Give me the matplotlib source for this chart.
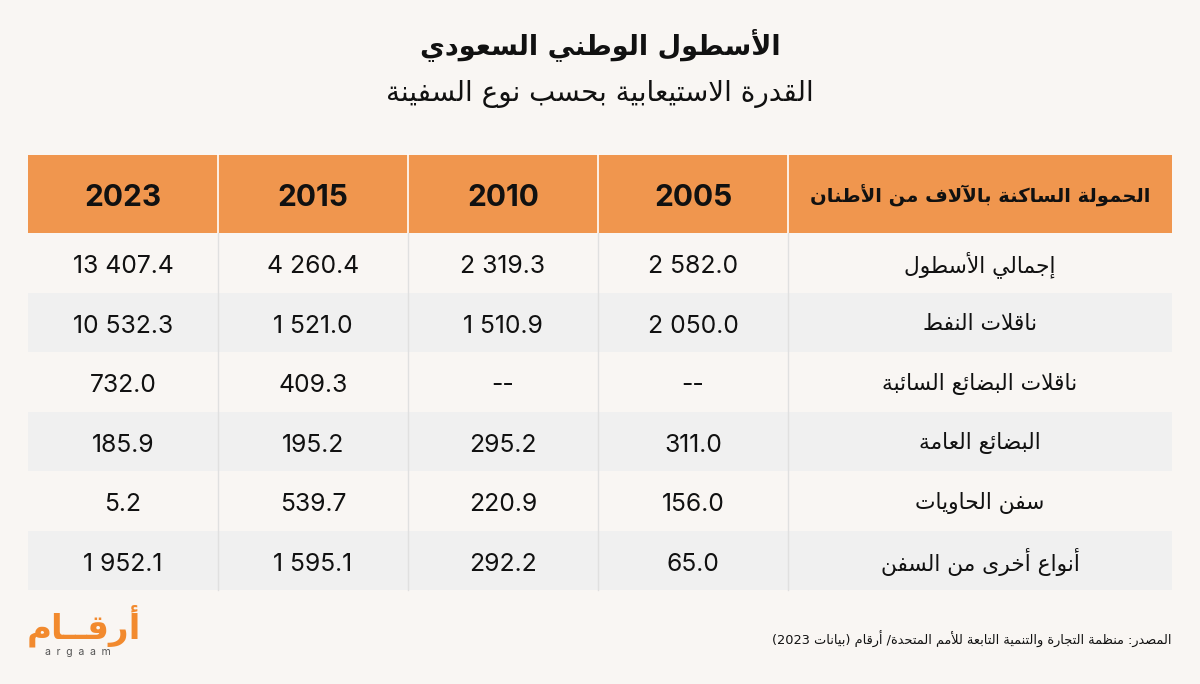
import re
import matplotlib.pyplot as plt
from matplotlib.patches import Rectangle

# --- minimal Arabic shaping + right-to-left ordering (no external libs) ---
FOUR = {0x0626: 0xFE89, 0x0628: 0xFE8F, 0x062A: 0xFE95, 0x062B: 0xFE99, 0x062C: 0xFE9D,
        0x062D: 0xFEA1, 0x062E: 0xFEA5, 0x0633: 0xFEB1, 0x0634: 0xFEB5, 0x0635: 0xFEB9,
        0x0636: 0xFEBD, 0x0637: 0xFEC1, 0x0638: 0xFEC5, 0x0639: 0xFEC9, 0x063A: 0xFECD,
        0x0641: 0xFED1, 0x0642: 0xFED5, 0x0643: 0xFED9, 0x0644: 0xFEDD, 0x0645: 0xFEE1,
        0x0646: 0xFEE5, 0x0647: 0xFEE9, 0x064A: 0xFEF1}
TWO = {0x0622: 0xFE81, 0x0623: 0xFE83, 0x0624: 0xFE85, 0x0625: 0xFE87, 0x0627: 0xFE8D,
       0x0629: 0xFE93, 0x062F: 0xFEA9, 0x0630: 0xFEAB, 0x0631: 0xFEAD, 0x0632: 0xFEAF,
       0x0648: 0xFEED, 0x0649: 0xFEEF}
LAMALEF = {0x0622: 0xFEF5, 0x0623: 0xFEF7, 0x0625: 0xFEF9, 0x0627: 0xFEFB}
TATWEEL = 0x0640


def shape(s):
    units = []
    i = 0
    while i < len(s):
        c = ord(s[i])
        if c == 0x0644 and i + 1 < len(s) and ord(s[i + 1]) in LAMALEF:
            units.append(('LA', LAMALEF[ord(s[i + 1])]))
            i += 2
        else:
            units.append(('C', c))
            i += 1

    def dual(u):
        return u[0] == 'C' and (u[1] in FOUR or u[1] == TATWEEL)

    def joins(u):
        return u[0] == 'LA' or u[1] in FOUR or u[1] in TWO or u[1] == TATWEEL

    out = []
    for k, u in enumerate(units):
        prev = units[k - 1] if k > 0 else None
        nxt = units[k + 1] if k + 1 < len(units) else None
        jp = prev is not None and dual(prev) and joins(u)
        if u[0] == 'LA':
            out.append(chr(u[1] + (1 if jp else 0)))
            continue
        c = u[1]
        jn = nxt is not None and dual(u) and joins(nxt)
        if c in FOUR:
            b = FOUR[c]
            out.append(chr(b + (3 if jp and jn else 1 if jp else 2 if jn else 0)))
        elif c in TWO:
            out.append(chr(TWO[c] + (1 if jp else 0)))
        else:
            out.append(chr(c))
    return ''.join(out)


MIRROR = str.maketrans('()', ')(')


def ar(s):
    s = shape(s)
    tokens = re.findall(r'[0-9A-Za-z.]+|[^0-9A-Za-z.]+', s)
    out = []
    for t in reversed(tokens):
        if re.match(r'[0-9A-Za-z.]', t):
            out.append(t)
        else:
            out.append(t[::-1].translate(MIRROR))
    return ''.join(out)


# --- data ---
title = 'الأسطول الوطني السعودي'
subtitle = 'القدرة الاستيعابية بحسب نوع السفينة'
header_label = 'الحمولة الساكنة بالآلاف من الأطنان'
source = 'المصدر: منظمة التجارة والتنمية التابعة للأمم المتحدة/ أرقام (بيانات 2023)'

years = ['2005', '2010', '2015', '2023']
row_labels = ['إجمالي الأسطول', 'ناقلات النفط', 'ناقلات البضائع السائبة',
              'البضائع العامة', 'سفن الحاويات', 'أنواع أخرى من السفن']
v2005 = [2582.0, 2050.0, None, 311.0, 156.0, 65.0]
v2010 = [2319.3, 1510.9, None, 295.2, 220.9, 292.2]
v2015 = [4260.4, 1521.0, 409.3, 195.2, 539.7, 1595.1]
v2023 = [13407.4, 10532.3, 732.0, 185.9, 5.2, 1952.1]
columns = [v2005, v2010, v2015, v2023]


def fmt(v):
    if v is None:
        return '--'
    return f'{v:,.1f}'.replace(',', ' ')


BG = '#f9f6f3'
ORANGE = '#f0964e'
ALT = '#f0f0f0'
LINE = '#e0e0e0'
AR_FONT = ['DejaVu Sans']
NUM_FONT = ['Inter', 'DejaVu Sans']

fig = plt.figure(figsize=(12, 6.84), dpi=100, facecolor=BG)
ax = fig.add_axes([0, 0, 1, 1])
ax.set_xlim(0, 1200)
ax.set_ylim(684, 0)
ax.axis('off')

# table geometry (pixels)
left, right = 28, 1172
col_w = 190
label_left = left + 4 * col_w
head_top, head_bot = 155, 233
row_h = 59.5

ax.text(600, 45, ar(title), ha='center', va='center', fontsize=19.5, fontweight='bold',
        family=AR_FONT, color='#111111')
ax.text(600, 94, ar(subtitle), ha='center', va='center', fontsize=20,
        family=AR_FONT, color='#111111')

# header
ax.add_patch(Rectangle((left, head_top), right - left, head_bot - head_top,
                       facecolor=ORANGE, edgecolor='none'))
ax.text((label_left + right) / 2, (head_top + head_bot) / 2 + 2, ar(header_label),
        ha='center', va='center', fontsize=14, fontweight='bold', family=AR_FONT,
        color='#111111')
for j, yr in enumerate(years):
    cx = label_left - col_w * j - col_w / 2
    ax.text(cx, (head_top + head_bot) / 2 + 4, yr, ha='center', va='center',
            fontsize=21.5, fontweight='bold', family=NUM_FONT, color='#111111')

# body rows
for i, lab in enumerate(row_labels):
    y0 = head_bot + i * row_h
    if i % 2 == 1:
        ax.add_patch(Rectangle((left, y0), right - left, row_h, facecolor=ALT,
                               edgecolor='none'))
    cy = y0 + row_h / 2
    ax.text((label_left + right) / 2, cy + 2, ar(lab), ha='center', va='center',
            fontsize=15.7, family=AR_FONT, color='#111111')
    for j, col in enumerate(columns):
        cx = label_left - col_w * j - col_w / 2
        ax.text(cx, cy + 4, fmt(col[i]), ha='center', va='center', fontsize=17.8,
                family=NUM_FONT, color='#111111')

body_bot = head_bot + len(row_labels) * row_h
for j in range(1, 5):
    x = left + col_w * j
    ax.plot([x, x], [head_top, head_bot], color='white', lw=1.2)
    ax.plot([x, x], [head_bot, body_bot], color=LINE, lw=1)

# source and logo
ax.text(right, 639, ar(source), ha='right', va='center', fontsize=9.3,
        family=AR_FONT, color='#111111')
ax.text(84, 626, ar('أرقــام'), ha='center', va='center', fontsize=24.5,
        fontweight='bold', family=AR_FONT, color='#f28a2e')
ax.text(78, 652, 'a  r  g  a  a  m', ha='center', va='center', fontsize=7.5,
        family=NUM_FONT, color='#555555')

fig.savefig('out.png', dpi=100, facecolor=BG)
